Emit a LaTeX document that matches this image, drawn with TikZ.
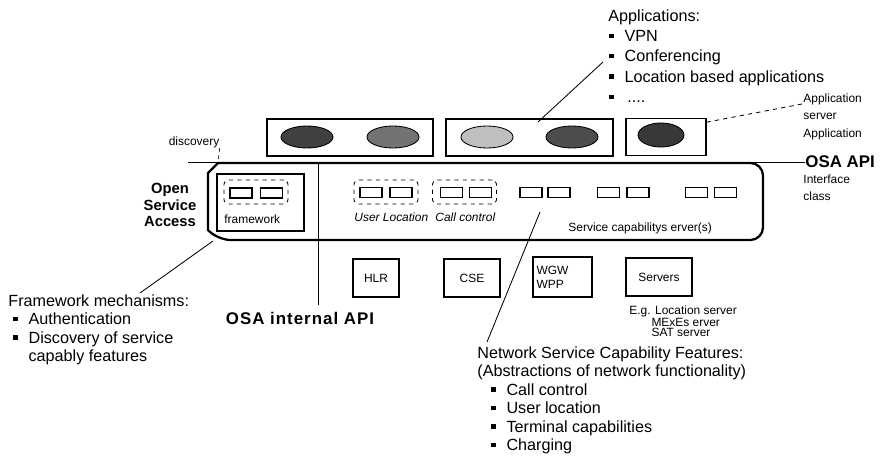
\documentclass[tikz,border=0pt]{standalone}
\usepackage{fontspec}
\setmainfont{Liberation Sans}
\usetikzlibrary{shapes.geometric}

\newcommand{\bul}{\makebox[0.95em][l]{\rule[0.22em]{0.27em}{0.27em}}}

\begin{document}
\begin{tikzpicture}[x=0.025cm, y=-0.025cm, line width=0.6pt]
  \tikzstyle{appbox} = [draw, line width=0.8pt, minimum height=0.925cm, inner sep=0pt]
  \tikzstyle{app} = [ellipse, draw, minimum width=1.3cm, minimum height=0.55cm, inner sep=0pt]
  \tikzstyle{sbox} = [draw, line width=0.8pt, minimum width=0.55cm, minimum height=0.25cm, inner sep=0pt]
  \tikzstyle{group} = [draw, dashed, rounded corners=3pt, minimum width=1.6cm, minimum height=0.6cm, inner sep=0pt]
  \tikzstyle{nbox} = [draw, line width=0.8pt, minimum height=0.95cm, inner sep=0pt, font=\fontsize{8.5}{10}\selectfont]
  \tikzstyle{small} = [font=\fontsize{8.5}{12}\selectfont, inner sep=0pt]
  \tikzstyle{big} = [font=\fontsize{11.5}{13.2}\selectfont, align=left, inner sep=0pt, anchor=north west]
  \tikzstyle{api} = [font=\fontsize{12}{14}\selectfont\bfseries, inner sep=0pt]

  \useasboundingbox (0,0) rectangle (881,467);

  % application layer
  \node (as1) [appbox, minimum width=4.15cm] at (350,137.5) {};
  \node (as2) [appbox, minimum width=4.175cm] at (529.5,137.5) {};
  \node (as3) [appbox, minimum width=2.0cm] at (666,137) {};
  \node (app1) [app, fill=black!75] at (307,137) {};
  \node (app2) [app, fill=black!55] at (393,137) {};
  \node (app3) [app, fill=black!25] at (487,137) {};
  \node (app4) [app, fill=black!70] at (572,137) {};
  \node (app5) [app, fill=black!78, minimum width=1.15cm, minimum height=0.6cm] at (661,135) {};

  % open service access
  \coordinate (apiL) at (188,162);
  \node (osaapi) [api, anchor=west] at (805,162) {OSA API};
  \draw (apiL) -- (osaapi.west);
  \draw[line width=1.6pt] (208,173) -- (218,163) [rounded corners=9pt] -- (763,163) -- (763,240) -- (218,240) [sharp corners] -- (208,230) -- cycle;
  \coordinate (osaTL) at (218,163);
  \coordinate (osaBL) at (213,241);
  \node (osa) [font=\fontsize{10.5}{12}\selectfont\bfseries, align=center, inner sep=0pt] at (170,205) {Open\\Service\\Access};
  \node (disc) [small] at (194,142) {discovery};
  \draw[densely dashed, thin] (disc.south east) -- (osaTL);

  % framework
  \node (fwbox) [draw, line width=0.8pt, minimum width=2.175cm, minimum height=1.425cm, inner sep=0pt] at (260.5,202.5) {};
  \node (fwgrp) [group] at (256,192) {};
  \node (fw1) [sbox] at (241,193) {};
  \node (fw2) [sbox] at (271.5,193) {};
  \node (fwlbl) [small, anchor=west] at (224,219) {framework};

  % internal api
  \coordinate (intT) at (318,163);
  \coordinate (intB) at (318,305);
  \draw[thin] (intT) -- (intB);
  \node (intapi) [api, font=\fontsize{12}{14}\selectfont\bfseries\addfontfeature{LetterSpace=6}] at (300,318) {OSA internal API};

  % service capability servers
  \node (ulgrp) [group] at (386,192) {};
  \node (ul1) [sbox] at (371,192.5) {};
  \node (ul2) [sbox] at (401,192.5) {};
  \node (ullbl) [small, anchor=west, font=\fontsize{8.5}{10}\selectfont\itshape] at (354,217) {User Location};
  \node (ccgrp) [group] at (464.5,192) {};
  \node (cc1) [sbox] at (451.5,192.5) {};
  \node (cc2) [sbox] at (480.5,192.5) {};
  \node (cclbl) [small, anchor=west, font=\fontsize{8.5}{10}\selectfont\itshape] at (435,217) {Call control};
  \node (sc1a) [sbox] at (531,192.5) {};
  \node (sc1b) [sbox] at (559,192.5) {};
  \node (sc2a) [sbox] at (608.5,192.5) {};
  \node (sc2b) [sbox] at (638,192.5) {};
  \node (sc3a) [sbox] at (696.5,192.5) {};
  \node (sc3b) [sbox] at (725.5,192.5) {};
  \node (scs) [small, anchor=west] at (568,228) {Service capabilitys erver(s)};

  % network elements
  \node (hlr) [nbox, minimum width=1.15cm] at (376,278) {HLR};
  \node (cse) [nbox, minimum width=1.4cm] at (472,278) {CSE};
  \node (wgw) [nbox, minimum width=1.475cm, minimum height=1.0cm, text width=1.3cm, align=left] at (562.5,277) {WGW\\WPP};
  \node (srv) [nbox, minimum width=1.65cm] at (659,277) {Servers};
  \node (srvnote) [font=\fontsize{8.5}{7.6}\selectfont, align=left, inner sep=0pt, anchor=north west] at (629,305) {E.g. Location server\\\hspace*{1.85em}MExEs erver\\\hspace*{1.85em}SAT server};

  % right side labels
  \node (appsrv) [small, align=left, anchor=west] at (803,107) {Application\\server};
  \node (applbl) [small, anchor=west] at (803,134) {Application};
  \node (iface) [small, align=left, anchor=west] at (803,188) {Interface\\class};
  \draw[dashed] ([yshift=0.37cm]as3.east) -- ([yshift=0.08cm]appsrv.west);

  % callouts
  \node (apps) [big, font=\fontsize{11.5}{14.5}\selectfont] at (608,9) {Applications:\\\hspace*{0.05em}\bul VPN\\\hspace*{0.05em}\bul Conferencing\\\hspace*{0.05em}\bul Location based applications\\\hspace*{0.05em}\bul \,....};
  \coordinate (appsL) at (603,62);
  \coordinate (appsB) at (538,122);
  \draw (appsB) -- (appsL);

  \node (fwm) [big] at (8,294) {Framework mechanisms:\\\hspace*{0.3em}\bul Authentication\\\hspace*{0.3em}\bul Discovery of service\\\hspace*{1.25em}capably features};
  \coordinate (fwmT) at (140,293);
  \draw (osaBL) -- (fwmT);

  \node (nscf) [big] at (477,346) {Network Service Capability Features:\\(Abstractions of network functionality)\\\hspace*{0.85em}\bul Call control\\\hspace*{0.85em}\bul User location\\\hspace*{0.85em}\bul Terminal capabilities\\\hspace*{0.85em}\bul Charging};
  \coordinate (nscfT) at (540,212);
  \coordinate (nscfB) at (487,342);
  \draw (nscfT) -- (nscfB);
\end{tikzpicture}
\end{document}
